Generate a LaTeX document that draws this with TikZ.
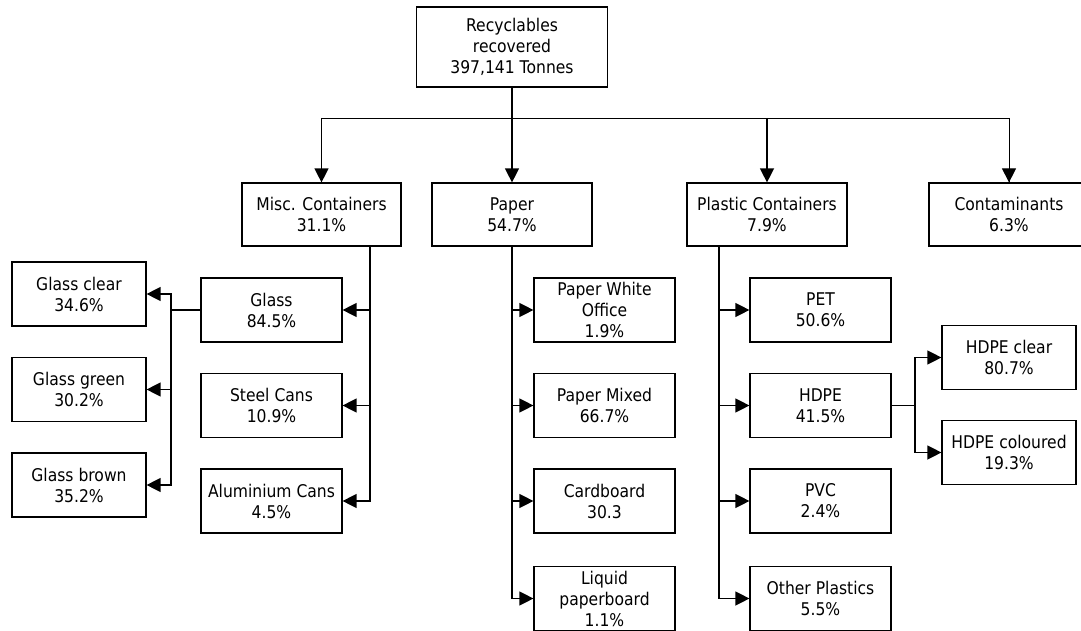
\documentclass[tikz,border=0pt]{standalone}
\usepackage{fontspec}
\setmainfont{DejaVu Sans}[FakeStretch=0.89]
\usetikzlibrary{arrows.meta}
\tikzset{
  box/.style={draw=black, line width=1.2pt, fill=white, inner sep=0pt, align=center,
    font=\fontsize{17.5}{21}\selectfont},
  wbox/.style={box, minimum width=160pt, minimum height=63pt},
  cbox/.style={box, minimum width=141pt, minimum height=64pt},
  gbox/.style={box, minimum width=134pt, minimum height=64pt},
  conn/.style={draw=black, line width=1.3pt},
  arr/.style={conn, -{Triangle[length=14pt,width=14pt]}},
}
\begin{document}
\begin{tikzpicture}[x=1pt,y=-1pt]
\clip (0,0) rectangle (1081,631);
\fill[white] (0,0) rectangle (1081,631);
% top
\node[box, minimum width=191pt, minimum height=80pt] (top) at (512,47) {Recyclables\\recovered\\397,141 Tonnes};
% level 1
\node[wbox, minimum width=159pt] (misc) at (321.5,214.5) {Misc. Containers\\31.1\%};
\node[wbox] (paper) at (512,214.5) {Paper\\54.7\%};
\node[wbox] (plastic) at (767,214.5) {Plastic Containers\\7.9\%};
\node[wbox] (cont) at (1009,214.5) {Contaminants\\6.3\%};
% misc children
\node[cbox] (glass) at (271.5,310) {Glass\\84.5\%};
\node[cbox] (steel) at (271.5,405.5) {Steel Cans\\10.9\%};
\node[cbox] (alu) at (271.5,501) {Aluminium Cans\\4.5\%};
% glass children
\node[gbox] (gclear) at (79,294) {Glass clear\\34.6\%};
\node[gbox] (ggreen) at (79,389.5) {Glass green\\30.2\%};
\node[gbox] (gbrown) at (79,485) {Glass brown\\35.2\%};
% paper children
\node[cbox] (pwo) at (604.5,310) {Paper White\\Office\\1.9\%};
\node[cbox] (pmix) at (604.5,405.5) {Paper Mixed\\66.7\%};
\node[cbox] (card) at (604.5,501) {Cardboard\\30.3};
\node[cbox] (liq) at (604.5,598.5) {Liquid\\paperboard\\1.1\%};
% plastic children
\node[cbox] (pet) at (820.5,310) {PET\\50.6\%};
\node[cbox] (hdpe) at (820.5,405.5) {HDPE\\41.5\%};
\node[cbox] (pvc) at (820.5,501) {PVC\\2.4\%};
\node[cbox] (oth) at (820.5,598.5) {Other Plastics\\5.5\%};
% hdpe children
\node[gbox] (hclear) at (1009,357.5) {HDPE clear\\80.7\%};
\node[gbox] (hcol) at (1009,452.5) {HDPE coloured\\19.3\%};
% coordinates
\coordinate (bus) at (512,118);
\coordinate (mt) at (370,246);
\coordinate (gj) at (171,310);
\coordinate (plt) at (719,246);
\coordinate (hj) at (915,405.5);
% level 1 connectors
\draw[arr] (top.south) -- (paper.north);
\draw[conn, line width=0.9pt] (bus) -| (misc.north);
\draw[conn, line width=0.9pt] (bus) -| (cont.north);
\draw[arr] (misc.north |- bus) -- (misc.north);
\draw[arr] (plastic.north |- bus) -- (plastic.north);
\draw[arr, line width=0.9pt] (cont.north |- bus) -- (cont.north);
% misc
\draw[arr] (mt) |- (glass.east);
\draw[arr] (mt) |- (steel.east);
\draw[arr] (mt) |- (alu.east);
% glass
\draw[conn] (glass.west) -- (gj);
\draw[arr] (gj) |- (gclear.east);
\draw[arr] (gj) |- (ggreen.east);
\draw[arr] (gj) |- (gbrown.east);
% paper
\draw[arr] (paper.south) |- (pwo.west);
\draw[arr] (paper.south) |- (pmix.west);
\draw[arr] (paper.south) |- (card.west);
\draw[arr] (paper.south) |- (liq.west);
% plastic
\draw[arr] (plt) |- (pet.west);
\draw[arr] (plt) |- (hdpe.west);
\draw[arr] (plt) |- (pvc.west);
\draw[arr] (plt) |- (oth.west);
% hdpe
\draw[conn] (hdpe.east) -- (hj);
\draw[arr] (hj) |- (hclear.west);
\draw[arr] (hj) |- (hcol.west);
\end{tikzpicture}
\end{document}
